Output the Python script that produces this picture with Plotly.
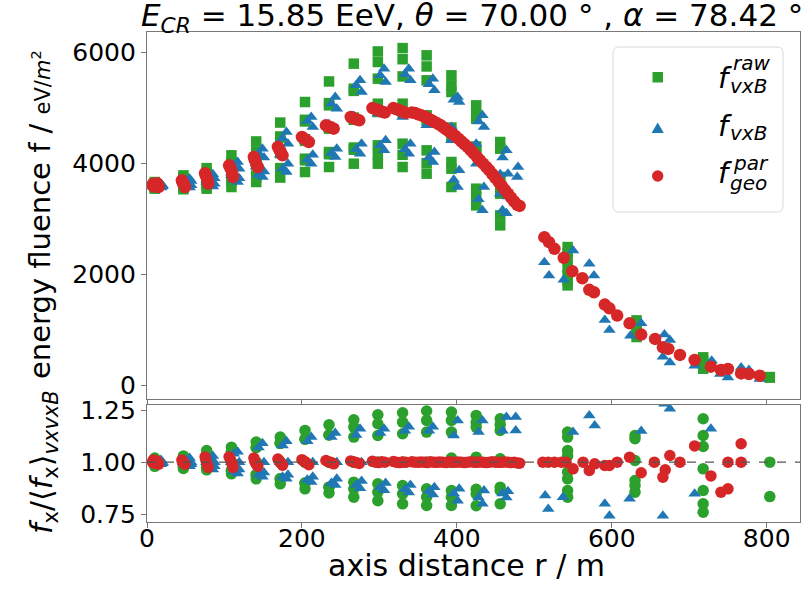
import plotly.graph_objects as go

# --- data ---
# inner star-pattern rings (axis distance in m), 8 antennas per ring
R_COL = [10, 47, 77, 109, 141, 172, 204, 235, 267, 298, 330, 361, 393, 425, 456]
ARM_DR = [8, 3, 10, 0, 0, 10, 3, 8]  # small r offsets of the vxB points per arm

RAW_TOP = [
    [3660, 3640, 3630, 3600, 3590, 3570, 3560, 3540],
    [3780, 3740, 3730, 3660, 3640, 3580, 3560, 3530],
    [3910, 3840, 3820, 3720, 3700, 3620, 3600, 3540],
    [4140, 4010, 3990, 3850, 3830, 3690, 3670, 3570],
    [4390, 4210, 4190, 3980, 3960, 3770, 3750, 3660],
    [4730, 4480, 4460, 4200, 4180, 3910, 3890, 3740],
    [5100, 4780, 4750, 4430, 4400, 4080, 4050, 3840],
    [5470, 5080, 5040, 4650, 4620, 4200, 4160, 3930],
    [5790, 5340, 5300, 4820, 4780, 4280, 4240, 3990],
    [6010, 5820, 5520, 5070, 4920, 4320, 4150, 3990],
    [6070, 5870, 5560, 5070, 4900, 4350, 4150, 3930],
    [5940, 5740, 5490, 4860, 4760, 4230, 4000, 3810],
    [5580, 5400, 5280, 4640, 4470, 4020, 3900, 3570],
    [5040, 4880, 4800, 4300, 4200, 3540, 3380, 3240],
    [4380, 4260, 3750, 3650, 3560, 3450, 3060, 2880],
]
VXB_TOP = [
    [3630, 3620, 3600, 3600, 3590, 3580, 3570, 3560],
    [3720, 3700, 3680, 3650, 3630, 3600, 3580, 3560],
    [3800, 3770, 3730, 3690, 3660, 3630, 3600, 3580],
    [4020, 3960, 3900, 3830, 3780, 3730, 3690, 3660],
    [4260, 4180, 4100, 3990, 3940, 3850, 3790, 3750],
    [4560, 4450, 4350, 4220, 4150, 3990, 3900, 3840],
    [4830, 4760, 4650, 4470, 4400, 4150, 4060, 3990],
    [5190, 5070, 4980, 4700, 4620, 4260, 4180, 4110],
    [5490, 5400, 5280, 4850, 4770, 4350, 4250, 4170],
    [5700, 5580, 5460, 4960, 4890, 4410, 4320, 4230],
    [5700, 5600, 5490, 4940, 4830, 4350, 4250, 4170],
    [5520, 5420, 5310, 4820, 4680, 4200, 4100, 4020],
    [5190, 5140, 5100, 4650, 4410, 3870, 3700, 3570],
    [4860, 4750, 4650, 4350, 3990, 3570, 3350, 3150],
    [4230, 4100, 3810, 3800, 3450, 3400, 3150, 3100],
]
RAW_LOW = [
    [1.02, 1.01, 1.01, 1.0, 1.0, 0.99, 0.99, 0.98],
    [1.03, 1.02, 1.02, 1.0, 1.0, 0.98, 0.98, 0.97],
    [1.056, 1.04, 1.04, 1.0, 1.0, 0.975, 0.975, 0.963],
    [1.072, 1.05, 1.05, 1.0, 1.0, 0.96, 0.96, 0.944],
    [1.096, 1.07, 1.07, 1.0, 1.0, 0.94, 0.94, 0.92],
    [1.12, 1.09, 1.09, 1.0, 1.0, 0.92, 0.92, 0.896],
    [1.152, 1.11, 1.11, 1.0, 1.0, 0.9, 0.9, 0.872],
    [1.179, 1.13, 1.13, 1.0, 1.0, 0.88, 0.88, 0.852],
    [1.203, 1.168, 1.12, 1.0, 1.0, 0.904, 0.872, 0.832],
    [1.227, 1.184, 1.128, 1.0, 1.0, 0.896, 0.856, 0.815],
    [1.237, 1.192, 1.136, 1.0, 1.0, 0.888, 0.848, 0.8],
    [1.245, 1.2, 1.144, 1.0, 1.0, 0.872, 0.832, 0.792],
    [1.24, 1.2, 1.144, 1.02, 1.0, 0.864, 0.832, 0.792],
    [1.224, 1.19, 1.168, 1.024, 1.0, 0.87, 0.848, 0.791],
    [1.208, 1.18, 1.152, 1.016, 1.0, 0.88, 0.864, 0.8],
]
VXB_LOW = [
    [1.01, 1.005, 1.0, 1.0, 1.0, 0.995, 0.99, 0.99],
    [1.02, 1.01, 1.0, 1.0, 1.0, 0.99, 0.985, 0.98],
    [1.03, 1.02, 1.0, 1.0, 1.0, 0.98, 0.975, 0.965],
    [1.05, 1.04, 1.0, 1.0, 1.0, 0.965, 0.955, 0.945],
    [1.09, 1.07, 1.0, 1.0, 1.0, 0.95, 0.94, 0.93],
    [1.1, 1.08, 1.0, 1.0, 1.0, 0.94, 0.93, 0.92],
    [1.12, 1.1, 1.0, 1.0, 1.0, 0.93, 0.915, 0.905],
    [1.14, 1.12, 1.0, 1.0, 1.0, 0.92, 0.9, 0.89],
    [1.16, 1.13, 1.0, 1.0, 1.0, 0.91, 0.89, 0.875],
    [1.16, 1.14, 1.0, 1.0, 1.0, 0.9, 0.88, 0.865],
    [1.17, 1.15, 1.0, 1.0, 1.0, 0.89, 0.87, 0.855],
    [1.17, 1.15, 1.0, 1.0, 1.0, 0.88, 0.86, 0.845],
    [1.2, 1.128, 1.0, 1.0, 1.0, 0.872, 0.85, 0.815],
    [1.2, 1.144, 1.0, 1.0, 1.0, 0.864, 0.83, 0.8],
    [1.216, 1.15, 1.0, 1.0, 1.0, 0.86, 0.85, 0.83],
]

# outer antennas
RAW_OUT_R = [543] * 7 + [632] * 5 + [718] * 4 + [804] * 2
RAW_OUT_F = [2490, 2380, 2270, 2120, 1990, 1880, 1800,
             1170, 1100, 1020, 940, 870, 505, 440, 380, 300, 150, 140]
RAW_OUT_LOW_R = [543] * 8 + [630] * 6 + [718] * 7 + [804] * 2
RAW_OUT_LOW = [1.144, 1.12, 1.056, 1.03, 0.952, 0.92, 0.864, 0.832,
               1.128, 1.112, 1.008, 0.912, 0.888, 0.856,
               1.208, 1.128, 1.075, 0.968, 0.864, 0.80, 0.76,
               1.0, 0.835]

VXB_OUT_R = [479, 478, 513, 519, 538, 549, 550, 571, 577, 591, 597, 624, 638,
             656, 666, 668, 675, 675, 688, 707, 729, 740, 741, 750, 767, 777, 791]
VXB_OUT_F = [3930, 3750, 2216, 1976, 1899, 2050, 2427, 2187, 1976, 1178, 998,
             895, 1117, 836, 517, 914, 818, 414, 560, 355, 445, 205, 280, 144,
             324, 277, 115]
VXB_OUT_LOW_R = [476, 476, 514, 518, 537, 550, 571, 578, 591, 597, 623, 638,
                 655, 666, 668, 675, 688, 707, 728, 750, 767]
VXB_OUT_LOW = [1.216, 1.152, 0.84, 0.775, 0.832, 1.144, 1.224, 1.176, 0.80,
               0.743, 0.824, 1.149, 1.0, 0.743, 1.28, 1.256, 1.0, 0.848, 1.16,
               1.0, 1.0]

GEO_R = [7, 8, 9, 13, 14, 15, 45, 46, 48, 49, 75, 76, 78, 79,
         106, 108, 110, 111, 138, 139, 141, 143, 169, 171, 173, 175,
         200, 203, 206, 209, 231, 234, 238, 241, 263, 266, 270, 274,
         291, 295, 299, 303, 307, 318, 322, 326, 330, 334,
         342, 346, 350, 354, 358, 362, 366, 370, 374, 378,
         382, 386, 390, 394, 398, 402, 406, 410, 414, 418,
         422, 426, 430, 434, 438, 442, 446, 450, 454, 458,
         462, 466, 470, 474, 478, 481,
         513, 519, 526, 538, 549, 562, 571, 577, 591, 597, 607, 623,
         638, 656, 666, 673, 688, 707, 728, 741, 750, 767, 777, 791]
GEO_F = [3600, 3630, 3580, 3640, 3600, 3570, 3690, 3650, 3610, 3570,
         3820, 3770, 3700, 3630, 3960, 3900, 3820, 3750,
         4110, 4060, 3990, 3930, 4290, 4240, 4190, 4140,
         4470, 4440, 4410, 4380, 4680, 4660, 4640, 4620,
         4830, 4810, 4790, 4770,
         4990, 4970, 4950, 4930, 4910, 4990, 4970, 4950, 4930, 4900,
         4910, 4900, 4880, 4860, 4840, 4810, 4780, 4750, 4720, 4690,
         4650, 4610, 4570, 4530, 4490, 4440, 4390, 4340, 4290, 4230,
         4170, 4110, 4050, 3990, 3930, 3870, 3800, 3730, 3660, 3590,
         3520, 3450, 3380, 3310, 3250, 3230,
         2667, 2577, 2457, 2295, 2054, 1928, 1719, 1676, 1454, 1387, 1256, 1117,
         914, 836, 685, 656, 548, 458, 337, 277, 295, 216, 205, 175]
GEO_LOW_R = GEO_R[:84] + [511, 518, 526, 535, 541, 550, 563, 571, 578, 591, 597,
                          607, 623, 638, 655, 666, 669, 675, 688, 707, 728, 741,
                          750, 750, 767, 767]
GEO_LOW = [1.0, 1.01, 0.995, 1.005, 1.0, 0.99, 1.01, 1.0, 0.995, 0.99,
           1.025, 1.01, 0.99, 0.975, 1.025, 1.01, 0.99, 0.975,
           1.02, 1.005, 0.99, 0.98, 1.015, 1.005, 0.995, 0.985,
           1.012, 1.004, 0.996, 0.988, 1.008, 1.002, 0.998, 0.992,
           1.006, 1.002, 0.998, 0.994,
           1.004, 1.0, 0.998, 1.002, 1.0, 1.003, 1.0, 0.998, 1.001, 0.999,
           1.002, 1.0, 0.999, 1.001, 1.0, 0.998, 1.002, 1.0, 0.999, 1.001,
           1.0, 0.998, 1.002, 1.0, 0.999, 1.001, 1.0, 0.998, 1.0, 1.002,
           1.0, 0.999, 1.001, 1.0, 0.998, 1.0, 1.002, 1.0, 0.999, 1.0,
           1.001, 1.0, 0.998, 1.0, 0.996, 0.995,
           1.0, 1.0, 1.0, 1.0, 1.0, 0.968, 1.0, 0.96, 0.992, 0.984, 0.984,
           1.0, 1.024, 0.949, 1.0, 0.928, 0.963, 1.032, 1.0, 1.078, 0.934,
           0.856, 0.872, 1.0, 1.088, 1.0]

GREEN, BLUE, RED = "#2ca02c", "#1f77b4", "#d62728"
FONT = "DejaVu Sans"

# flatten the ring tables
raw_r = [r for r, vals in zip(R_COL, RAW_TOP) for _ in vals] + RAW_OUT_R
raw_f = [v for vals in RAW_TOP for v in vals] + RAW_OUT_F
vxb_r = [r + d for r, vals in zip(R_COL, VXB_TOP) for d in ARM_DR[:len(vals)]] + VXB_OUT_R
vxb_f = [v for vals in VXB_TOP for v in vals] + VXB_OUT_F
raw_lr = [r for r, vals in zip(R_COL, RAW_LOW) for _ in vals] + RAW_OUT_LOW_R
raw_lv = [v for vals in RAW_LOW for v in vals] + RAW_OUT_LOW
vxb_lr = [r + d for r, vals in zip(R_COL, VXB_LOW) for d in ARM_DR[:len(vals)]] + VXB_OUT_LOW_R
vxb_lv = [v for vals in VXB_LOW for v in vals] + VXB_OUT_LOW

fig = go.Figure()
mk = lambda c, s, sym: dict(color=c, size=s, symbol=sym, line=dict(width=0))

fig.add_trace(go.Scatter(x=raw_r, y=raw_f, mode="markers", marker=mk(GREEN, 10.5, "square"),
                         xaxis="x", yaxis="y"))
fig.add_trace(go.Scatter(x=vxb_r, y=vxb_f, mode="markers", marker=mk(BLUE, 11, "triangle-up"),
                         xaxis="x", yaxis="y"))
fig.add_trace(go.Scatter(x=GEO_R, y=GEO_F, mode="markers", marker=mk(RED, 12.5, "circle"),
                         xaxis="x", yaxis="y"))
fig.add_trace(go.Scatter(x=raw_lr, y=raw_lv, mode="markers", marker=mk(GREEN, 11.5, "circle"),
                         xaxis="x2", yaxis="y2"))
fig.add_trace(go.Scatter(x=vxb_lr, y=vxb_lv, mode="markers", marker=mk(BLUE, 11, "triangle-up"),
                         xaxis="x2", yaxis="y2"))
fig.add_trace(go.Scatter(x=GEO_LOW_R, y=GEO_LOW, mode="markers", marker=mk(RED, 11.5, "circle"),
                         xaxis="x2", yaxis="y2"))

FW, FH = 804, 595
L, T, W, H = 147, 32, 653, 490  # plot area in pixels


def px(x):
    return (x - L) / W


def py(y):
    return (T + H - y) / H


axis_common = dict(showline=True, linecolor="#777777", linewidth=1.2, mirror=True,
                   ticks="outside", ticklen=5, tickcolor="#777777", showgrid=False,
                   zeroline=False, tickfont=dict(family=FONT, size=25, color="black"))
fig.update_layout(
    width=FW, height=FH,
    margin=dict(l=L, r=FW - L - W, t=T, b=FH - T - H, pad=0),
    paper_bgcolor="white", plot_bgcolor="white",
    showlegend=False,
    xaxis=dict(domain=[0, 1], anchor="y", range=[0, 843], tickvals=[0, 200, 400, 600, 800],
               showticklabels=False, **axis_common),
    yaxis=dict(domain=[py(399), 1], anchor="x", range=[-245, 6360],
               tickvals=[0, 2000, 4000, 6000], **axis_common),
    xaxis2=dict(domain=[0, 1], anchor="y2", matches="x", range=[0, 843],
                tickvals=[0, 200, 400, 600, 800], ticklabelstandoff=-11, **axis_common),
    yaxis2=dict(domain=[0, py(405)], anchor="x2", range=[0.713, 1.274],
                tickvals=[0.75, 1.0, 1.25], ticktext=["0.75", "1.00", "1.25"], **axis_common),
)

fig.add_shape(type="line", xref="x2 domain", yref="y2", x0=0, x1=1, y0=1, y1=1,
              line=dict(color="#555555", width=1.2, dash="dash"), layer="above")


# legend box (rounded corners) drawn by hand
def rounded_box(x0, y0, x1, y1, rad):
    def p(x, y):
        return f"{px(x):.5f},{py(y):.5f}"
    return (f"M {p(x0 + rad, y0)} L {p(x1 - rad, y0)} Q {p(x1, y0)} {p(x1, y0 + rad)} "
            f"L {p(x1, y1 - rad)} Q {p(x1, y1)} {p(x1 - rad, y1)} "
            f"L {p(x0 + rad, y1)} Q {p(x0, y1)} {p(x0, y1 - rad)} "
            f"L {p(x0, y0 + rad)} Q {p(x0, y0)} {p(x0 + rad, y0)} Z")


fig.add_shape(type="path", xref="paper", yref="paper", path=rounded_box(613, 47, 783, 212, 6),
              line=dict(color="#d9d9d9", width=1), fillcolor="rgba(255,255,255,0.85)", layer="above")
fig.add_shape(type="rect", xref="paper", yref="paper", x0=px(652.5), x1=px(663), y0=py(82.5), y1=py(72),
              line=dict(width=0), fillcolor=GREEN, layer="above")
tri = f"M {px(657.7)},{py(122.5)} L {px(651.6)},{py(133)} L {px(663.8)},{py(133)} Z"
fig.add_shape(type="path", xref="paper", yref="paper", path=tri,
              line=dict(width=0), fillcolor=BLUE, layer="above")
fig.add_shape(type="circle", xref="paper", yref="paper", x0=px(652), x1=px(663.4), y0=py(181.7), y1=py(170.3),
              line=dict(width=0), fillcolor=RED, layer="above")


def ann(text, x, y, size, xanchor="center", angle=0, italic=False):
    if italic:
        text = f"<i>{text}</i>"
    fig.add_annotation(text=text, x=px(x), y=py(y), xref="paper", yref="paper",
                       xanchor=xanchor, yanchor="middle", showarrow=False, textangle=angle,
                       font=dict(family=FONT, size=size, color="black"))


# legend labels with stacked super/subscripts
ann("f", 716, 78, 29, "left", italic=True)
ann("raw", 731, 63, 20, "left", italic=True)
ann("vxB", 728, 86, 20, "left", italic=True)
ann("f", 716, 126, 29, "left", italic=True)
ann("vxB", 728, 133, 20, "left", italic=True)
ann("f", 716, 173, 29, "left", italic=True)
ann("par", 731, 163, 20, "left", italic=True)
ann("geo", 728, 183, 20, "left", italic=True)

# titles
ann("<i>E</i><sub><i>CR</i></sub> = 15.85 EeV, <i>θ</i> = 70.00 ° , <i>α</i> = 78.42 °", 472, 17, 31)
ann("axis distance r / m", 466, 565, 30)
ann("energy fluence f / <span style='font-size:21px'>eV/<i>m</i><sup>2</sup></span>",
    40, 214, 29, angle=-90)
ann("<i>f</i><sub>x</sub>/⟨<i>f</i><sub>x</sub>⟩<sub><i>vxvxB</i></sub>", 43, 462, 30, angle=-90)

# drop the default 8px page margin so the figure sits at the window's corner
fig.write_html("out.html", config={"displayModeBar": False},
               post_script="document.body.style.margin='0px';")
